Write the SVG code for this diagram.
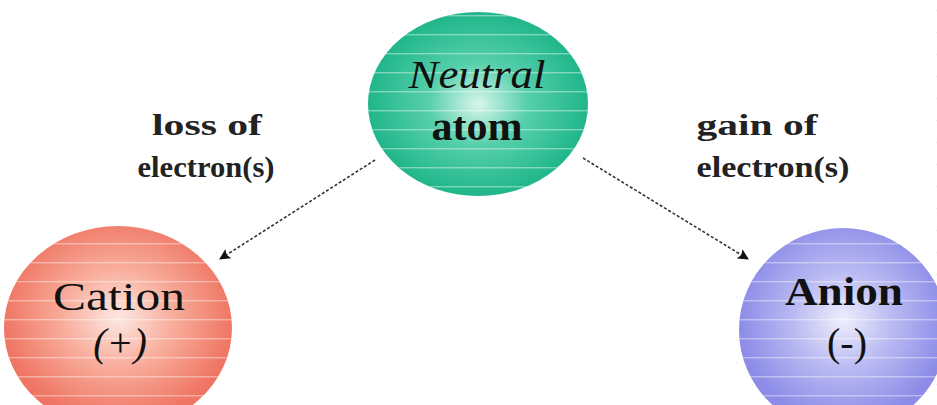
<svg xmlns="http://www.w3.org/2000/svg" width="937" height="405" viewBox="0 0 937 405">
  <defs>
    <radialGradient id="gGreen" cx="50%" cy="50%" r="50%">
      <stop offset="0" stop-color="#d8f6ec"/>
      <stop offset="0.45" stop-color="#56cfab"/>
      <stop offset="1" stop-color="#20b68a"/>
    </radialGradient>
    <radialGradient id="gRed" cx="50%" cy="45%" r="50%">
      <stop offset="0" stop-color="#fde8e2"/>
      <stop offset="0.5" stop-color="#f8ab9a"/>
      <stop offset="1" stop-color="#ef7664"/>
    </radialGradient>
    <radialGradient id="gBlue" cx="50%" cy="45%" r="50%">
      <stop offset="0" stop-color="#eeeefc"/>
      <stop offset="0.5" stop-color="#b8b8f2"/>
      <stop offset="1" stop-color="#8c8ce8"/>
    </radialGradient>
    <pattern id="stripes" width="10" height="19" patternUnits="userSpaceOnUse">
      <rect x="0" y="15" width="10" height="1.4" fill="#ffffff" opacity="0.4"/>
    </pattern>
    <marker id="arr" viewBox="0 0 10 10" refX="9" refY="5" markerWidth="13" markerHeight="11" orient="auto" markerUnits="userSpaceOnUse">
      <path d="M0,0 L10,5 L0,10 L2,5 z" fill="#111"/>
    </marker>
    <pattern id="dots" width="8" height="22" patternUnits="userSpaceOnUse">
      <rect x="0" y="10" width="1.2" height="1.2" fill="#ececec"/>
    </pattern>
  </defs>
  <style>
    .lbl { font-family: "Liberation Serif", "Times New Roman", serif; fill: #111; text-anchor: middle; }
    .big { font-size: 40px; }
    .side { font-size: 29px; font-weight: bold; fill: #222; }
    .conn { stroke: #333; stroke-width: 1.6; stroke-dasharray: 3 2; fill: none; }
  </style>
  <rect width="937" height="405" fill="#ffffff"/>
  <rect width="937" height="405" fill="url(#dots)"/>

  <g id="neutral-atom">
    <ellipse cx="478" cy="104" rx="110" ry="92" fill="url(#gGreen)"/>
    <ellipse cx="478" cy="104" rx="110" ry="92" fill="url(#stripes)"/>
    <text class="lbl big" x="477" y="88" font-style="italic" textLength="137" lengthAdjust="spacingAndGlyphs">Neutral</text>
    <text class="lbl big" x="477" y="140" font-weight="bold" textLength="91" lengthAdjust="spacingAndGlyphs">atom</text>
  </g>

  <g id="cation">
    <ellipse cx="118" cy="328" rx="114" ry="102" fill="url(#gRed)"/>
    <ellipse cx="118" cy="328" rx="114" ry="102" fill="url(#stripes)"/>
    <text class="lbl big" x="119" y="310" textLength="132" lengthAdjust="spacingAndGlyphs">Cation</text>
    <text class="lbl big" x="120" y="356" font-style="italic">(+)</text>
  </g>

  <g id="anion">
    <ellipse cx="843" cy="330" rx="104" ry="102" fill="url(#gBlue)"/>
    <ellipse cx="843" cy="330" rx="104" ry="102" fill="url(#stripes)"/>
    <text class="lbl big" x="844" y="305" font-weight="bold" textLength="118" lengthAdjust="spacingAndGlyphs">Anion</text>
    <text class="lbl big" x="847" y="356">(-)</text>
  </g>

  <g id="connectors">
    <line class="conn" x1="375" y1="160" x2="220" y2="259" marker-end="url(#arr)"/>
    <line class="conn" x1="583" y1="158" x2="748" y2="259" marker-end="url(#arr)"/>
    <text class="lbl side" x="207" y="135" textLength="110" lengthAdjust="spacingAndGlyphs">loss of</text>
    <text class="lbl side" x="206" y="177" textLength="137" lengthAdjust="spacingAndGlyphs">electron(s)</text>
    <text class="lbl side" x="757" y="135" textLength="121" lengthAdjust="spacingAndGlyphs">gain of</text>
    <text class="lbl side" x="773" y="177" textLength="153" lengthAdjust="spacingAndGlyphs">electron(s)</text>
  </g>
</svg>
